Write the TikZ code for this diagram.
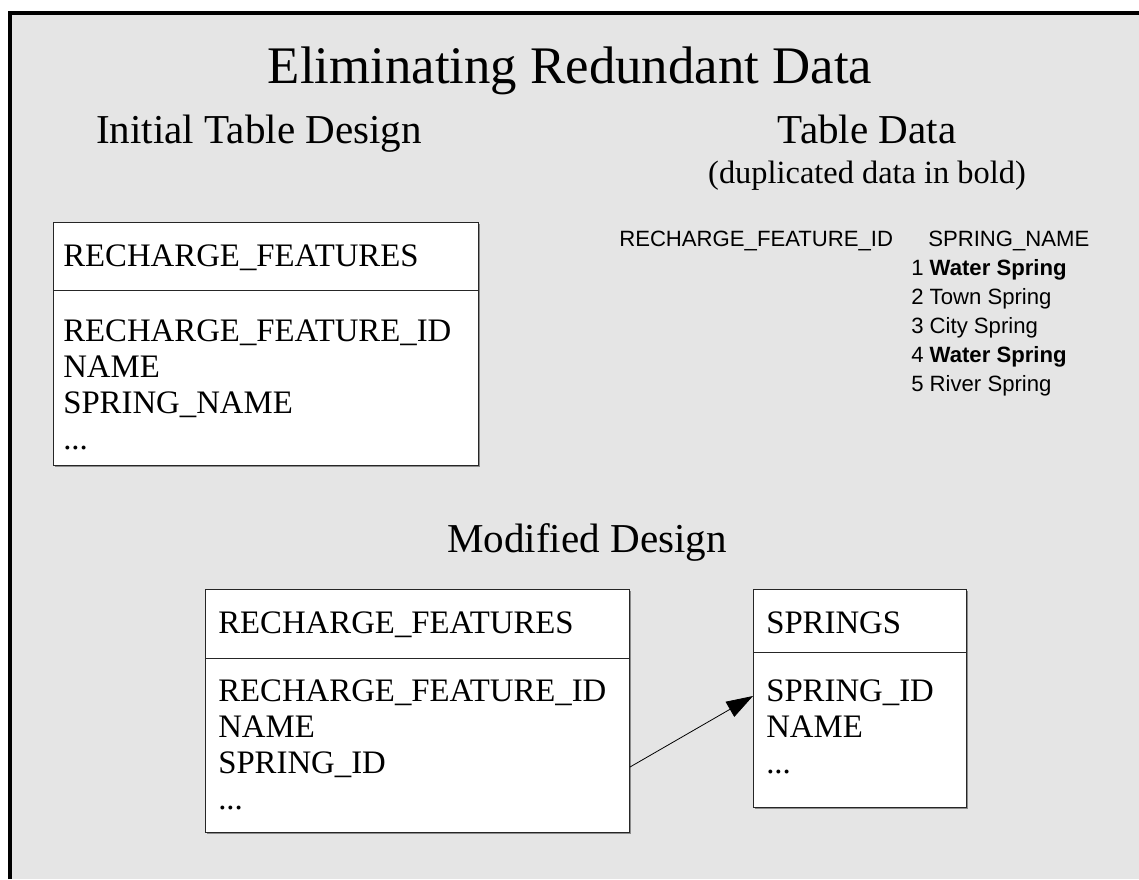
\documentclass[tikz,border=0pt]{standalone}
\usepackage{fontspec}
\setmainfont{Liberation Serif}
\newfontfamily\datafont{Liberation Sans}
\usepackage{tikz}
\usetikzlibrary{arrows.meta,shadows}

\definecolor{slidegray}{RGB}{229,229,229}

\tikzset{
  tablebox/.style={draw=black!85, line width=0.75pt, fill=white, anchor=north west, inner sep=0pt,
    drop shadow={shadow xshift=1.2pt, shadow yshift=-1.2pt, fill=black!45, opacity=1}},
  fieldtext/.style={anchor=base west, inner sep=0pt, font=\fontsize{24.6}{28}\selectfont},
  datatext/.style={anchor=base west, inner sep=0pt, font=\datafont\fontsize{16.6}{19}\selectfont},
  headtext/.style={anchor=base, inner sep=0pt, font=\fontsize{30.8}{36}\selectfont},
  fk/.style={line width=0.6pt, -{Triangle[length=20pt,width=13pt]}}
}

\begin{document}
\begin{tikzpicture}[x=0.75pt,y=0.75pt,yscale=-1,xscale=1]
\useasboundingbox (0,0) rectangle (1139,879);

%Shape: Slide background
\fill [slidegray] (10,13) rectangle (1139,879);
\draw [line width=3pt] (10,879) -- (10,13) -- (1139,13);

% Text Node
\draw (570,83) node (title) [anchor=base, inner sep=0pt, font=\fontsize{39.6}{46}\selectfont] {Eliminating Redundant Data};
% Text Node
\draw (259,143) node (initial) [headtext] {Initial Table Design};
% Text Node
\draw (867,143) node (tabdata) [headtext] {Table Data};
% Text Node
\draw (867,183) node (dupnote) [anchor=base, inner sep=0pt, font=\fontsize{24.3}{28}\selectfont] {(duplicated data in bold)};
% Text Node
\draw (587,552) node (modified) [headtext] {Modified Design};

%Shape: Table [initial design]
\node (oldtab) [tablebox, minimum width=318.75pt, minimum height=182.25pt] at (53,222) {};
\draw [black!85, line width=0.75pt] (oldtab.west |- 0,290) -- (oldtab.east |- 0,290);
\draw (63,266) node (oldname) [fieldtext] {RECHARGE\_FEATURES};
\draw (63,341) node (oldf1) [fieldtext] {RECHARGE\_FEATURE\_ID};
\draw (63,377) node (oldf2) [fieldtext] {NAME};
\draw (63,413) node (oldf3) [fieldtext] {SPRING\_NAME};
\draw (63,449) node (oldf4) [fieldtext] {...};

% Table data
\draw (619,246) node (colid) [datatext] {RECHARGE\_FEATURE\_ID};
\draw (928,246) node (colname) [datatext] {SPRING\_NAME};
\draw (911,275) node (row1) [datatext] {1 \textbf{Water Spring}};
\draw (911,304) node (row2) [datatext] {2 Town Spring};
\draw (911,333) node (row3) [datatext] {3 City Spring};
\draw (911,362) node (row4) [datatext] {4 \textbf{Water Spring}};
\draw (911,391) node (row5) [datatext] {5 River Spring};

%Shape: Table [modified design]
\node (newtab) [tablebox, minimum width=318pt, minimum height=182.25pt] at (205,589) {};
\draw [black!85, line width=0.75pt] (newtab.west |- 0,658) -- (newtab.east |- 0,658);
\draw (218,633) node (newname) [fieldtext] {RECHARGE\_FEATURES};
\draw (218,701) node (newf1) [fieldtext] {RECHARGE\_FEATURE\_ID};
\draw (218,737) node (newf2) [fieldtext] {NAME};
\draw (218,773) node (newf3) [fieldtext] {SPRING\_ID};
\draw (218,809) node (newf4) [fieldtext] {...};

%Shape: Table [springs]
\node (springs) [tablebox, minimum width=159.75pt, minimum height=163.5pt] at (753,589) {};
\draw [black!85, line width=0.75pt] (springs.west |- 0,652) -- (springs.east |- 0,652);
\draw (766,633) node (spname) [fieldtext] {SPRINGS};
\draw (766,701) node (spf1) [fieldtext] {SPRING\_ID};
\draw (766,737) node (spf2) [fieldtext] {NAME};
\draw (766,773) node (spf3) [fieldtext] {...};

%Straight Lines [foreign key]
\draw [fk] (newtab.east |- 0,767) -- (springs.west |- 0,696);

\end{tikzpicture}
\end{document}
